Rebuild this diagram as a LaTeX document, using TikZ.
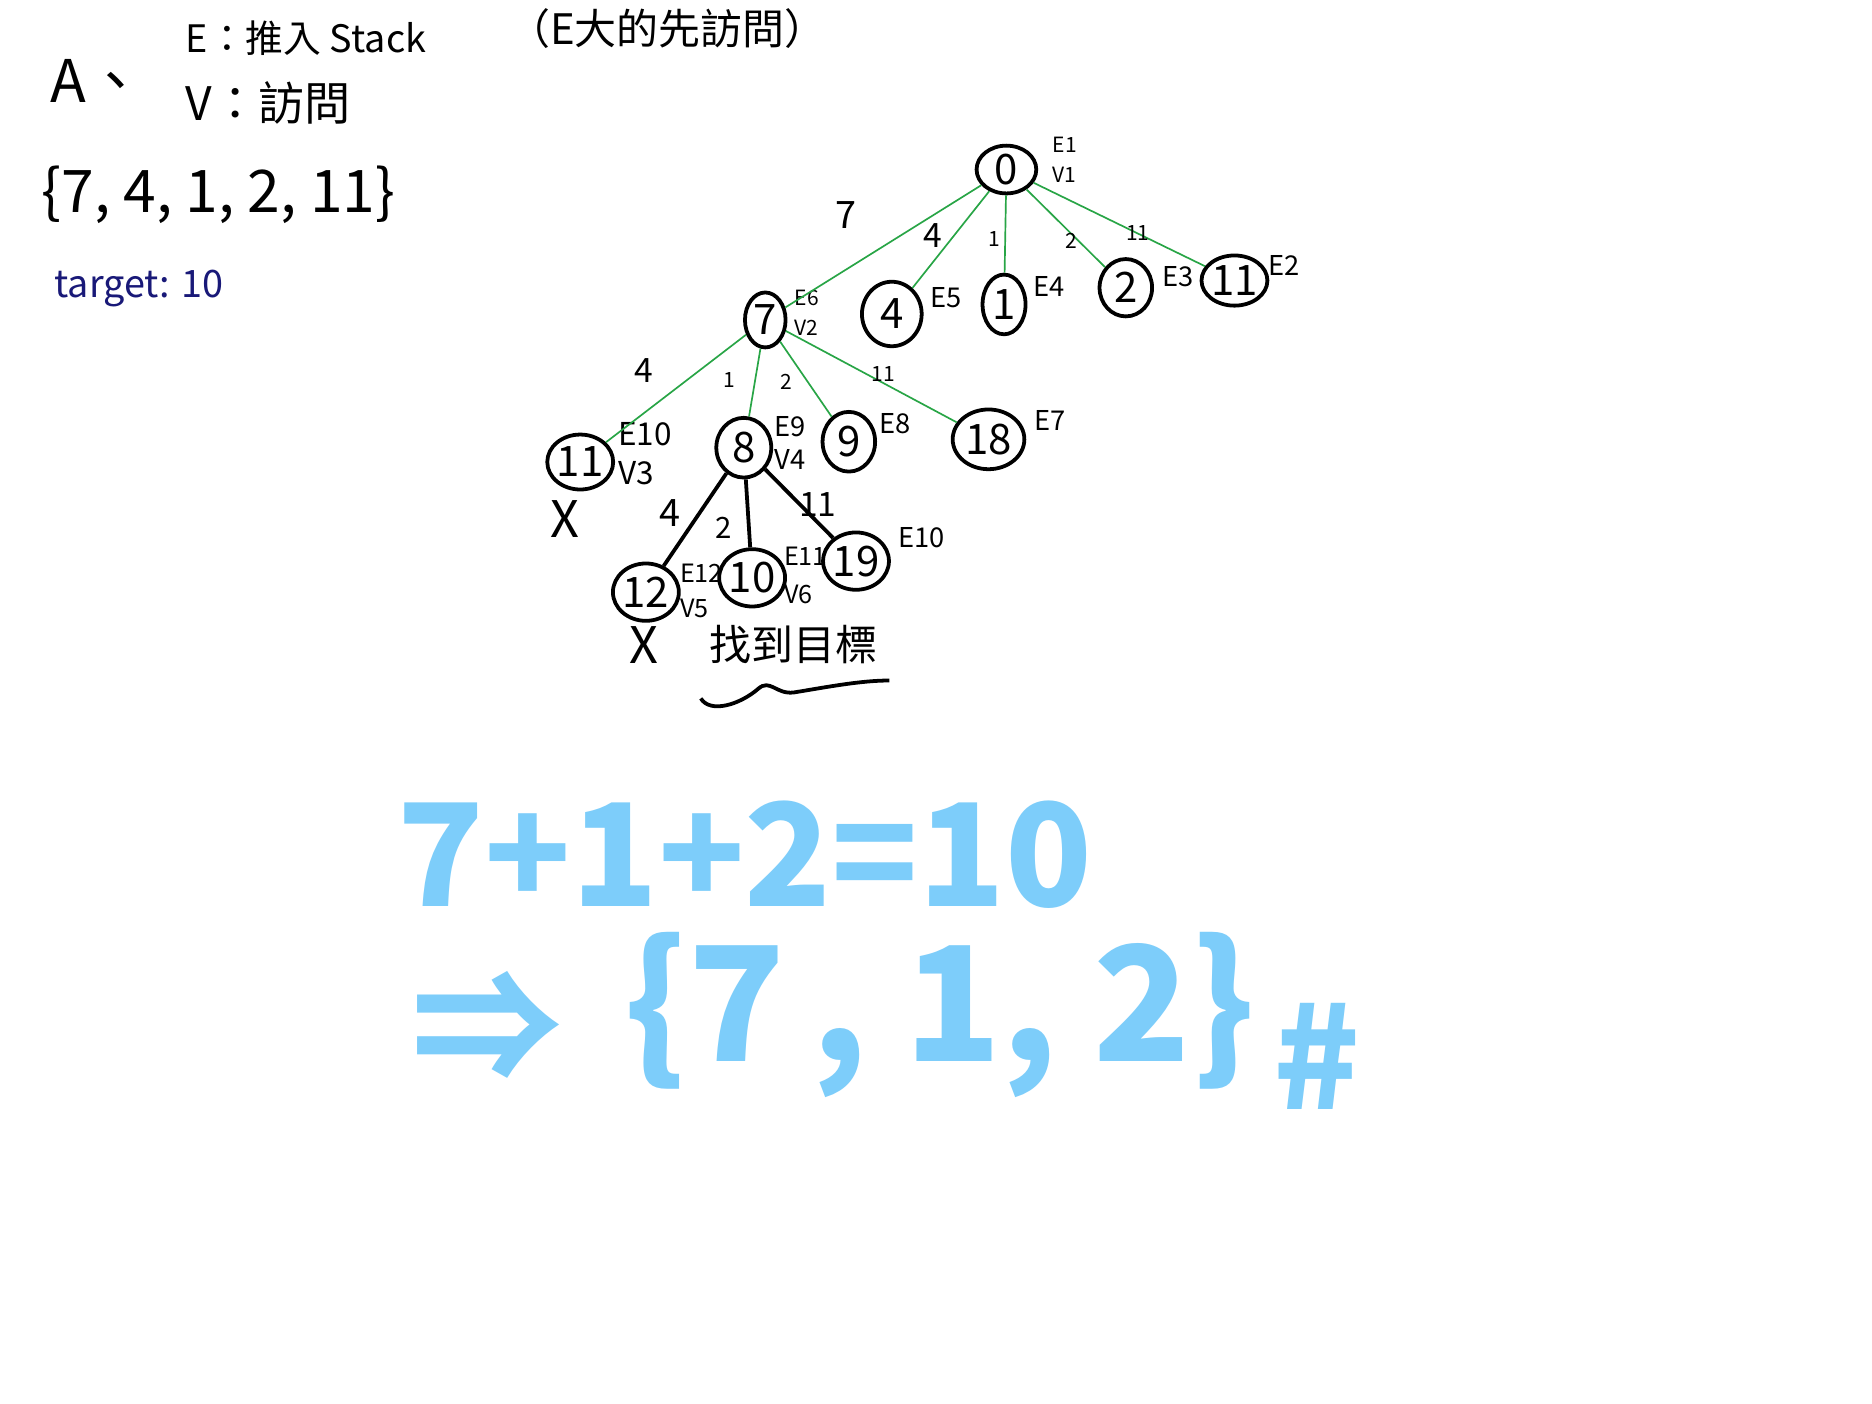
\documentclass[tikz,border=0pt]{standalone}
\usepackage{fontspec}
\setmainfont{Noto Sans CJK TC}
\usetikzlibrary{shapes.geometric}
\definecolor{edgegreen}{RGB}{40,165,70}
\definecolor{bigblue}{RGB}{125,205,250}
\definecolor{navyink}{RGB}{25,25,120}
\tikzset{
 vert/.style={ellipse, draw, line width=0.9pt, inner sep=0pt, font=\fontsize{10}{10}\selectfont},
 gedge/.style={edgegreen, line width=0.4pt},
 bedge/.style={black, line width=0.9pt},
 elab/.style={font=\fontsize{9}{9}\selectfont, inner sep=0pt},
 slab/.style={font=\fontsize{5}{5}\selectfont, inner sep=0pt},
 tag/.style={font=\fontsize{6.5}{8}\selectfont, inner sep=0pt, align=left, anchor=west},
 tagbig/.style={font=\fontsize{7.5}{9.5}\selectfont, inner sep=0pt, align=left, anchor=west},
 txt/.style={inner sep=0pt},
 big/.style={inner sep=0pt, text=bigblue, font=\fontsize{34}{34}\selectfont\bfseries},
 cross/.style={inner sep=0pt, font=\fontsize{12}{12}\selectfont},
}
\begin{document}
\begin{tikzpicture}[x=0.01cm,y=-0.01cm]
\useasboundingbox[fill=white] (0,0) rectangle (1568,1176);

% header text
\node[txt, font=\fontsize{14}{14}\selectfont] (A) at (82,68) {A、};
\node[txt, anchor=west, font=\fontsize{9}{9}\selectfont] (E) at (155,32) {E：推入 Stack};
\node[txt, anchor=west, font=\fontsize{10}{10}\selectfont] (Enote) at (425,24) {（E大的先訪問）};
\node[txt, anchor=west, font=\fontsize{11}{11}\selectfont] (V) at (155,86) {V：訪問};
\node[txt, font=\fontsize{14}{14}\selectfont] (set) at (183,163) {\{7, 4, 1, 2, 11\}};
\node[txt, anchor=west, text=navyink, font=\fontsize{9}{9}\selectfont] (tgt) at (45,242) {target: 10};

% level 0
\node[vert, minimum width=0.5cm, minimum height=0.4cm] (n0) at (843,142) {0};
\node[tag, font=\fontsize{5}{7}\selectfont] (t0) at (881,134) {E1\\V1};

% level 1
\node[vert, minimum width=0.34cm, minimum height=0.46cm] (n7) at (641,268) {7};
\node[tag, font=\fontsize{5}{7}\selectfont] (t7) at (665,262) {E6\\V2};
\node[vert, minimum width=0.5cm, minimum height=0.54cm] (n4) at (747,263) {4};
\node[tag] (t4) at (779,249) {E5};
\node[vert, minimum width=0.36cm, minimum height=0.5cm] (n1) at (841,255) {1};
\node[tag] (t1) at (865,240) {E4};
\node[vert, minimum width=0.44cm, minimum height=0.48cm] (n2) at (943,241) {2};
\node[tag] (t2) at (973,232) {E3};
\node[vert, minimum width=0.46cm, minimum height=0.42cm] (n11a) at (1034,235) {11};
\node[tag] (t11a) at (1062,222) {E2};

\draw[gedge] (n0) -- (n7);
\draw[gedge] (n0) -- (n4);
\draw[gedge] (n0) -- (n1);
\draw[gedge] (n0) -- (n2);
\draw[gedge] (n0) -- (n11a);
\node[elab] (l07) at (709,180) {7};
\node[elab, font=\fontsize{8}{8}\selectfont] (l04) at (781,197) {4};
\node[slab] (l01) at (833,200) {1};
\node[slab] (l02) at (897,202) {2};
\node[slab] (l011) at (953,195) {11};

% level 2
\node[vert, minimum width=0.46cm, minimum height=0.46cm] (n11b) at (486,387) {11};
\node[tagbig] (t11b) at (517,380) {E10\\V3};
\node[vert, minimum width=0.46cm, minimum height=0.5cm] (n8) at (623,375) {8};
\node[tag] (t8) at (648,371) {E9\\V4};
\node[vert, minimum width=0.44cm, minimum height=0.5cm] (n9) at (711,370) {9};
\node[tag] (t9) at (736,355) {E8};
\node[vert, minimum width=0.6cm, minimum height=0.5cm] (n18) at (828,368) {18};
\node[tag] (t18) at (866,352) {E7};

\draw[gedge] (n7) -- (n11b);
\draw[gedge] (n7) -- (n8);
\draw[gedge] (n7) -- (n9);
\draw[gedge] (n7) -- (n18);
\node[elab, font=\fontsize{8}{8}\selectfont] (l74) at (539,310) {4};
\node[slab] (l71) at (611,318) {1};
\node[slab] (l72) at (659,320) {2};
\node[slab] (l711) at (740,313) {11};
\node[cross] (x1) at (473,435) {X};

% level 3
\node[vert, minimum width=0.48cm, minimum height=0.48cm] (n12) at (541,496) {12};
\node[tag, font=\fontsize{6}{8.5}\selectfont] (t12) at (569,495) {E12\\V5};
\node[vert, minimum width=0.44cm, minimum height=0.48cm] (n10) at (630,484) {10};
\node[tag, font=\fontsize{6}{9}\selectfont] (t10) at (656,482) {E11\\V6};
\node[vert, minimum width=0.48cm, minimum height=0.48cm] (n19) at (717,470) {19};
\node[tag] (t19) at (752,450) {E10};

\draw[bedge] (n8) -- (n12);
\draw[bedge] (n8) -- (n10);
\draw[bedge] (n8) -- (n19);
\node[elab] (l84) at (561,430) {4};
\node[slab, font=\fontsize{7}{7}\selectfont] (l82) at (606,442) {2};
\node[elab, font=\fontsize{8}{8}\selectfont] (l811) at (685,423) {11};
\node[cross] (x2) at (539,540) {X};

\node[txt, font=\fontsize{10}{10}\selectfont] (found) at (665,540) {找到目標};
\coordinate (w1) at (587,585);
\coordinate (w2) at (745,570);
\draw[line width=0.9pt] (w1) .. controls (595,598) and (620,590) .. (635,577)
  .. controls (645,568) and (650,582) .. (665,580)
  .. controls (690,576) and (720,570) .. (w2);

% result
\node[big] (sum) at (624,716) {7+1+2=10};
\node[big, font=\fontsize{36}{36}\selectfont\bfseries] (arr) at (408,860) {⇒};
\node[big, font=\fontsize{38}{38}\selectfont\bfseries] (res) at (787,850) {\{7\,,\ 1,\ 2\}};
\node[big] (hash) at (1103,885) {\#};
\end{tikzpicture}
\end{document}
